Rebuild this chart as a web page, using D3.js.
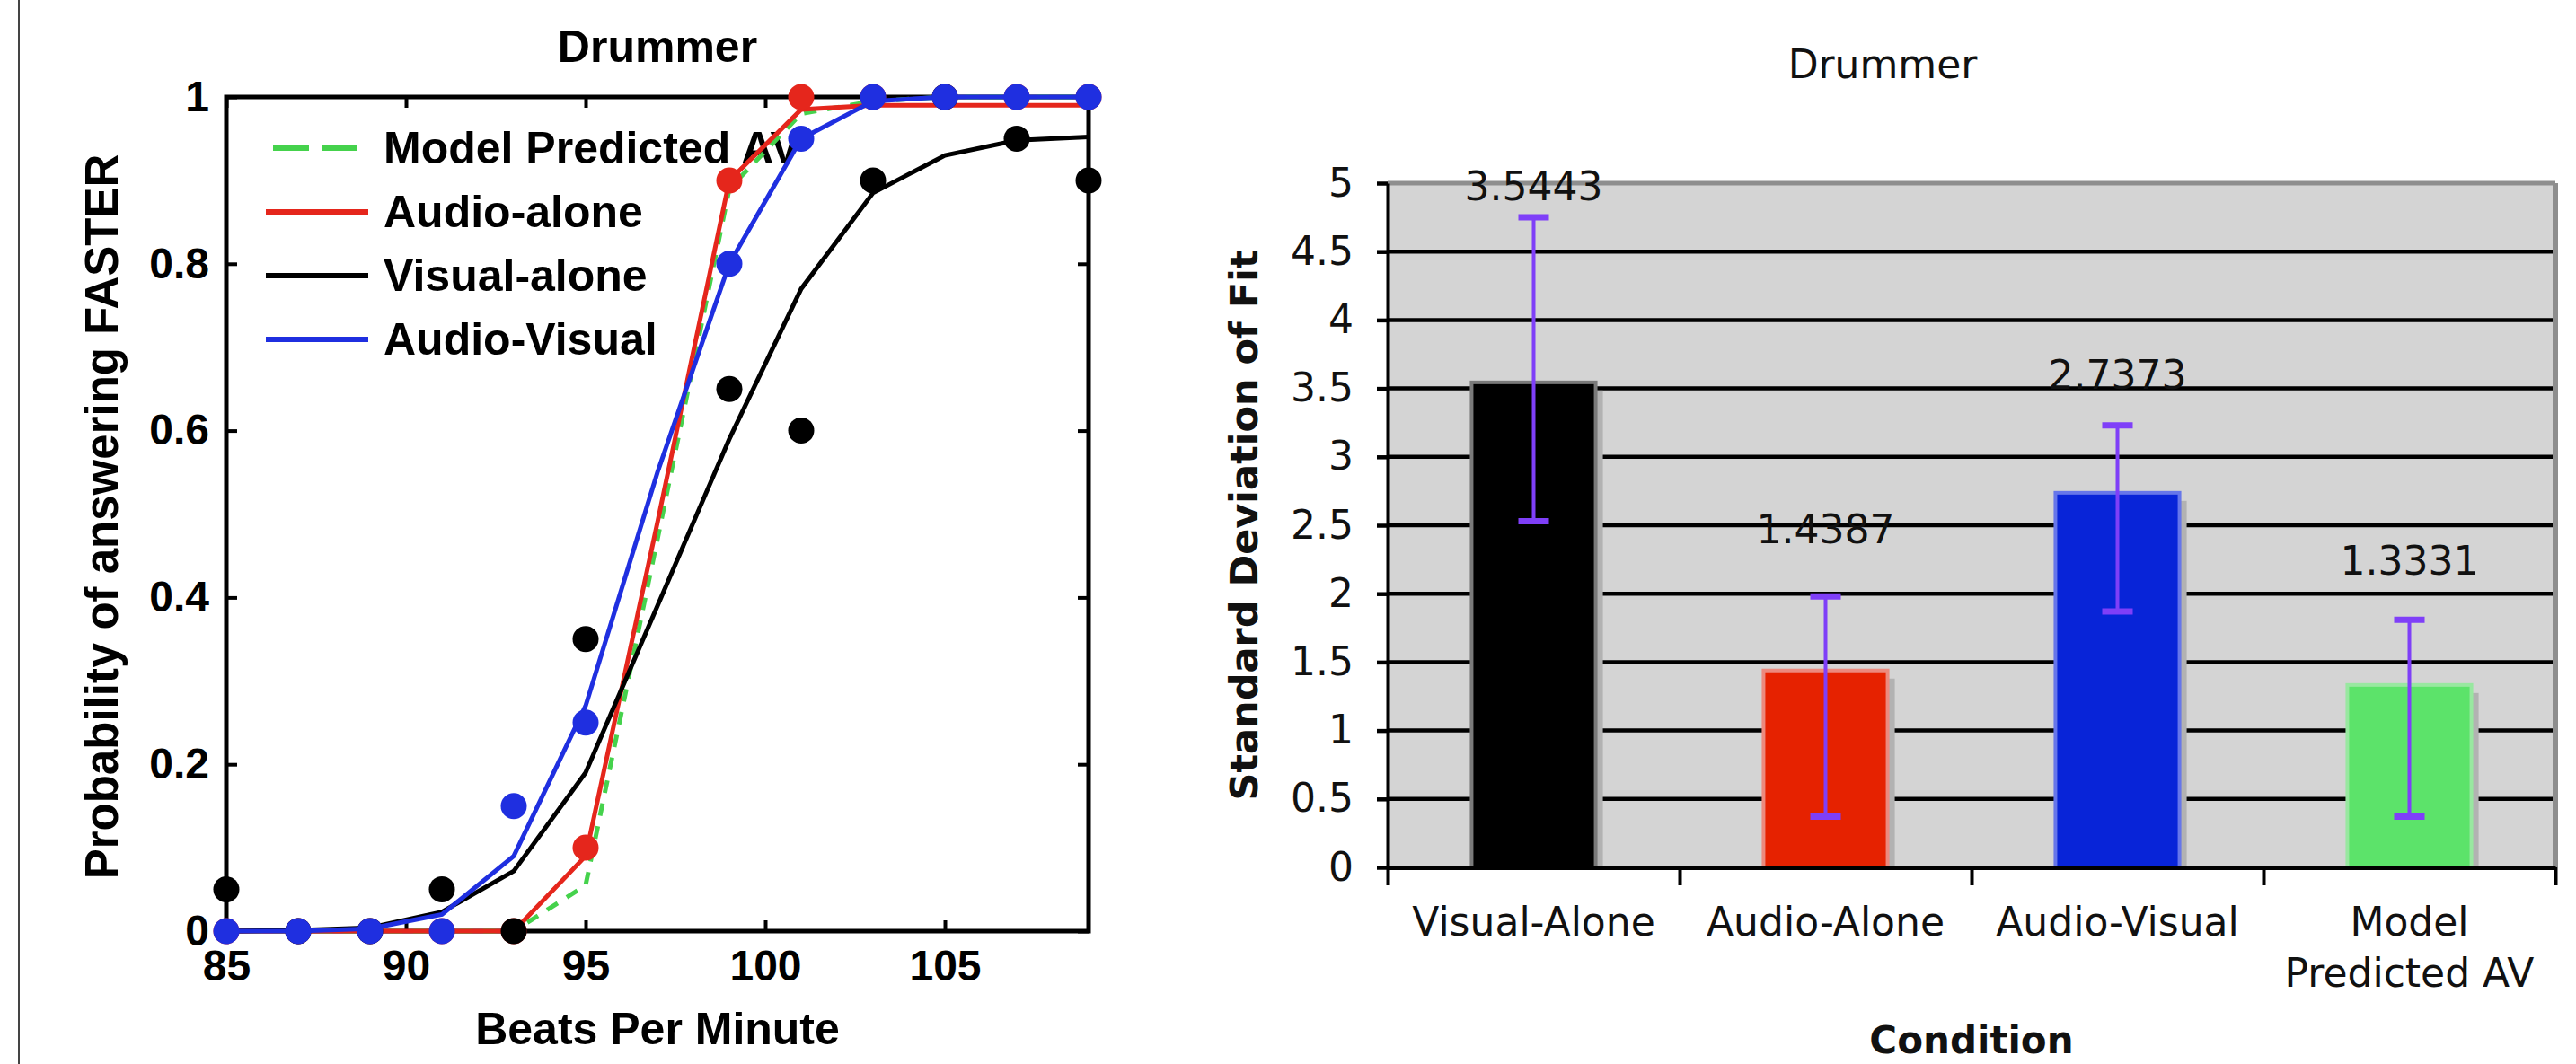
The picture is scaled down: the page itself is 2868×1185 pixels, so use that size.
<!DOCTYPE html>
<html lang="en">
<head>
<meta charset="utf-8">
<style>
  body { margin: 0; background: #fff; }
  .matlab text { font-family: "Liberation Sans", Arial, sans-serif; font-weight: bold; fill: #000; }
  .excel text { font-family: "DejaVu Sans", Verdana, sans-serif; fill: #111; }
</style>
</head>
<body>
<script src="https://cdn.jsdelivr.net/npm/d3@7"></script>
<script>
// ---- left panel: psychometric functions ----
const bpmObserved = [85, 87, 89, 91, 93, 95, 99, 101, 103, 105, 107, 109];
const visualObs = [0.05, 0, 0, 0.05, 0, 0.35, 0.65, 0.6, 0.9, 1, 0.95, 0.9];
const audioObs  = [0, 0, 0, 0, 0, 0.1, 0.9, 1, 1, 1, 1, 1];
const avObs     = [0, 0, 0, 0, 0.15, 0.25, 0.8, 0.95, 1, 1, 1, 1];

const bpmFit    = [85, 87, 89, 91, 93, 95, 97, 99, 101, 103, 105, 107, 109];
const modelFit  = [0, 0, 0, 0, 0, 0.055, 0.47, 0.89, 0.98, 0.995, 1, 1, 1];
const audioFit  = [0, 0, 0, 0, 0, 0.09, 0.49, 0.9, 0.985, 0.99, 0.99, 0.99, 0.99];
const visualFit = [0, 0.001, 0.004, 0.023, 0.072, 0.19, 0.39, 0.59, 0.77, 0.885, 0.93, 0.948, 0.952];
const avFit     = [0, 0, 0.003, 0.02, 0.09, 0.27, 0.55, 0.8, 0.95, 0.995, 1, 1, 1];

const bpmTicks  = [85, 90, 95, 100, 105];
const probTicks = [0, 0.2, 0.4, 0.6, 0.8, 1];
const legendNames = ["Model Predicted AV", "Audio-alone", "Visual-alone", "Audio-Visual"];

// ---- right panel: standard deviation of fit ----
const conditions = ["Visual-Alone", "Audio-Alone", "Audio-Visual", "Model Predicted AV"];
const conditionLines = [["Visual-Alone"], ["Audio-Alone"], ["Audio-Visual"], ["Model", "Predicted AV"]];
const sdFit   = [3.5443, 1.4387, 2.7373, 1.3331];
const sdUpper = [4.75, 1.98, 3.23, 1.81];
const sdLower = [2.53, 0.37, 1.87, 0.37];
const labelLevel = [4.98, 2.47, 3.60, 2.24];
const sdTicks = [0, 0.5, 1, 1.5, 2, 2.5, 3, 3.5, 4, 4.5, 5];

const green = "#45d24c", red = "#e5261c", black = "#000", blue = "#1f2fe0";
const barFill = ["#000000", "#e62200", "#0824d8", "#5ce36a"];
const barEdge = ["#7a7a7a", "#ec8a7e", "#6676ea", "#98e8a0"];

const W = 2868, H = 1185;
const svg = d3.select("body").append("svg")
    .attr("width", W).attr("height", H)
    .style("display", "block");
svg.append("rect").attr("width", W).attr("height", H).attr("fill", "#fff");

// thin frame line at far left
svg.append("line")
    .attr("x1", 21).attr("x2", 21).attr("y1", 0).attr("y2", H)
    .attr("stroke", "#444").attr("stroke-width", 2);

// ================= left panel =================
const left = svg.append("g").attr("class", "matlab");
const xL = d3.scaleLinear().domain([85, 109]).range([252, 1212]);
const yL = d3.scaleLinear().domain([0, 1]).range([1037, 108]);

left.append("text")
    .attr("x", d3.mean(xL.range())).attr("y", 69)
    .attr("text-anchor", "middle").attr("font-size", 50)
    .text("Drummer");

left.append("text")
    .attr("x", d3.mean(xL.range())).attr("y", 1163)
    .attr("text-anchor", "middle").attr("font-size", 50)
    .text("Beats Per Minute");

left.append("text")
    .attr("transform", `translate(131,${d3.mean(yL.range()) + 3}) rotate(-90)`)
    .attr("text-anchor", "middle").attr("font-size", 51)
    .text("Probability of answering FASTER");

function styleAxis(g, size) {
    g.attr("font-size", size).attr("font-family", null);
    g.select(".domain").remove();
    g.selectAll(".tick line").attr("stroke", "#000").attr("stroke-width", 4);
}

left.append("g")
    .attr("transform", `translate(0,${yL(0)})`)
    .call(d3.axisBottom(xL).tickValues(bpmTicks).tickSize(-12).tickPadding(21))
    .call(g => styleAxis(g, 48));

left.append("g")
    .attr("transform", `translate(0,${yL(1)})`)
    .call(d3.axisTop(xL).tickValues(bpmTicks).tickSize(-12).tickFormat(""))
    .call(g => styleAxis(g, 48));

left.append("g")
    .attr("transform", `translate(${xL(85)},0)`)
    .call(d3.axisLeft(yL).tickValues(probTicks).tickSize(-12).tickPadding(19).tickFormat(d => String(d)))
    .call(g => styleAxis(g, 48));

left.append("g")
    .attr("transform", `translate(${xL(109)},0)`)
    .call(d3.axisRight(yL).tickValues(probTicks).tickSize(-12).tickFormat(""))
    .call(g => styleAxis(g, 48));

left.append("rect")
    .attr("x", xL(85)).attr("y", yL(1))
    .attr("width", xL(109) - xL(85)).attr("height", yL(0) - yL(1))
    .attr("fill", "none").attr("stroke", "#000").attr("stroke-width", 5);

// legend (drawn below the data, as in the original)
const legendColors = [green, red, black, blue];
const legend = left.append("g");
legendNames.forEach((name, i) => {
    const cy = 165 + i * 71;
    legend.append("line")
        .attr("x1", 296).attr("x2", 410).attr("y1", cy).attr("y2", cy)
        .attr("stroke", legendColors[i]).attr("stroke-width", 6)
        .attr("stroke-dasharray", i === 0 ? "40,14" : null)
        .attr("stroke-dashoffset", i === 0 ? -8 : null);
    legend.append("text")
        .attr("x", 427).attr("y", cy + 17)
        .attr("font-size", 50)
        .text(name);
});

const fitLine = d3.line()
    .x((d, i) => xL(bpmFit[i]))
    .y(d => yL(d));

function drawSeries(fit, obs, color, dashed) {
    left.append("path")
        .datum(fit)
        .attr("d", fitLine)
        .attr("fill", "none")
        .attr("stroke", color)
        .attr("stroke-width", 5)
        .attr("stroke-dasharray", dashed ? "14,12" : null);
    if (!obs) return;
    left.append("g").selectAll("circle")
        .data(obs)
        .join("circle")
        .attr("cx", (d, i) => xL(bpmObserved[i]))
        .attr("cy", d => yL(d))
        .attr("r", 14.5)
        .attr("fill", color);
}

drawSeries(modelFit, null, green, true);
drawSeries(audioFit, audioObs, red, false);
drawSeries(visualFit, visualObs, black, false);
drawSeries(avFit, avObs, blue, false);

// ================= right panel =================
const right = svg.append("g").attr("class", "excel");
const xR = d3.scaleBand().domain(conditions).range([1545, 2845]).padding(0);
const yR = d3.scaleLinear().domain([0, 5]).range([966, 204]);
const xEdge = d3.scaleLinear().domain([0, conditions.length]).range(xR.range());
const bw = xR.bandwidth();
const barW = bw * 0.425;

right.append("rect")
    .attr("x", xR.range()[0]).attr("y", yR(5))
    .attr("width", xR.range()[1] - xR.range()[0]).attr("height", yR(0) - yR(5))
    .attr("fill", "#d4d4d4");

right.append("g").selectAll("line")
    .data(sdTicks.filter(t => t > 0 && t < 5))
    .join("line")
    .attr("x1", xR.range()[0]).attr("x2", xR.range()[1])
    .attr("y1", d => yR(d)).attr("y2", d => yR(d))
    .attr("stroke", "#000").attr("stroke-width", 4.5);

right.append("line")
    .attr("x1", xR.range()[0]).attr("x2", xR.range()[1])
    .attr("y1", yR(5)).attr("y2", yR(5))
    .attr("stroke", "#8e8e8e").attr("stroke-width", 5);
right.append("line")
    .attr("x1", xR.range()[1]).attr("x2", xR.range()[1])
    .attr("y1", yR(5)).attr("y2", yR(0))
    .attr("stroke", "#8e8e8e").attr("stroke-width", 6);

// bar shadows then bars
right.append("g").selectAll("rect")
    .data(sdFit)
    .join("rect")
    .attr("x", (d, i) => xR(conditions[i]) + (bw - barW) / 2 + 8)
    .attr("y", d => yR(d) + 9)
    .attr("width", barW)
    .attr("height", d => yR(0) - yR(d) - 9)
    .attr("fill", "#b2b2b2");

right.append("g").selectAll("rect")
    .data(sdFit)
    .join("rect")
    .attr("x", (d, i) => xR(conditions[i]) + (bw - barW) / 2)
    .attr("y", d => yR(d))
    .attr("width", barW)
    .attr("height", d => yR(0) - yR(d))
    .attr("fill", (d, i) => barFill[i])
    .attr("stroke", (d, i) => barEdge[i])
    .attr("stroke-width", 4);

// error bars
const errColor = "#7f3ff8";
const err = right.append("g");
sdFit.forEach((v, i) => {
    const cx = xR(conditions[i]) + bw / 2;
    err.append("line")
        .attr("x1", cx).attr("x2", cx)
        .attr("y1", yR(sdUpper[i])).attr("y2", yR(sdLower[i]))
        .attr("stroke", errColor).attr("stroke-width", 4);
    [sdUpper[i], sdLower[i]].forEach(e => {
        err.append("line")
            .attr("x1", cx - 17).attr("x2", cx + 17)
            .attr("y1", yR(e)).attr("y2", yR(e))
            .attr("stroke", errColor).attr("stroke-width", 7);
    });
});

// value labels
right.append("g").selectAll("text")
    .data(sdFit)
    .join("text")
    .attr("x", (d, i) => xR(conditions[i]) + bw / 2)
    .attr("y", (d, i) => yR(labelLevel[i]))
    .attr("dy", "0.36em")
    .attr("text-anchor", "middle")
    .attr("font-size", 44)
    .attr("fill", "#222")
    .text(d => d.toFixed(4));

// y axis
right.append("g")
    .attr("transform", `translate(${xR.range()[0]},0)`)
    .call(d3.axisLeft(yR).tickValues(sdTicks).tickSize(12).tickSizeOuter(0).tickPadding(26).tickFormat(d => String(d)))
    .call(g => {
        g.attr("font-size", 44).attr("font-family", null);
        g.select(".domain").attr("stroke", "#000").attr("stroke-width", 4);
        g.selectAll(".tick line").attr("stroke", "#000").attr("stroke-width", 4.5);
    });

// x axis line and boundary ticks
right.append("g")
    .attr("transform", `translate(0,${yR(0)})`)
    .call(d3.axisBottom(xEdge).tickValues(d3.range(conditions.length + 1)).tickSize(20).tickSizeOuter(0).tickFormat(""))
    .call(g => {
        g.select(".domain").attr("stroke", "#000").attr("stroke-width", 5);
        g.selectAll(".tick line").attr("stroke", "#000").attr("stroke-width", 4);
    });

// category labels
right.append("g").selectAll("text")
    .data(conditionLines)
    .join("text")
    .attr("x", (d, i) => xR(conditions[i]) + bw / 2)
    .attr("y", 1042)
    .attr("text-anchor", "middle")
    .attr("font-size", 44)
    .each(function (lines) {
        const t = d3.select(this);
        lines.forEach((ln, j) => {
            t.append("tspan")
                .attr("x", t.attr("x"))
                .attr("dy", j === 0 ? 0 : 57)
                .text(ln);
        });
    });

right.append("text")
    .attr("x", 2096).attr("y", 87)
    .attr("text-anchor", "middle").attr("font-size", 44)
    .text("Drummer");

right.append("text")
    .attr("x", d3.mean(xR.range())).attr("y", 1173)
    .attr("text-anchor", "middle").attr("font-size", 42).attr("font-weight", "bold")
    .text("Condition");

right.append("text")
    .attr("transform", `translate(1400,${d3.mean(yR.range())}) rotate(-90)`)
    .attr("text-anchor", "middle").attr("font-size", 43).attr("font-weight", "bold")
    .text("Standard Deviation of Fit");
</script>
</body>
</html>
